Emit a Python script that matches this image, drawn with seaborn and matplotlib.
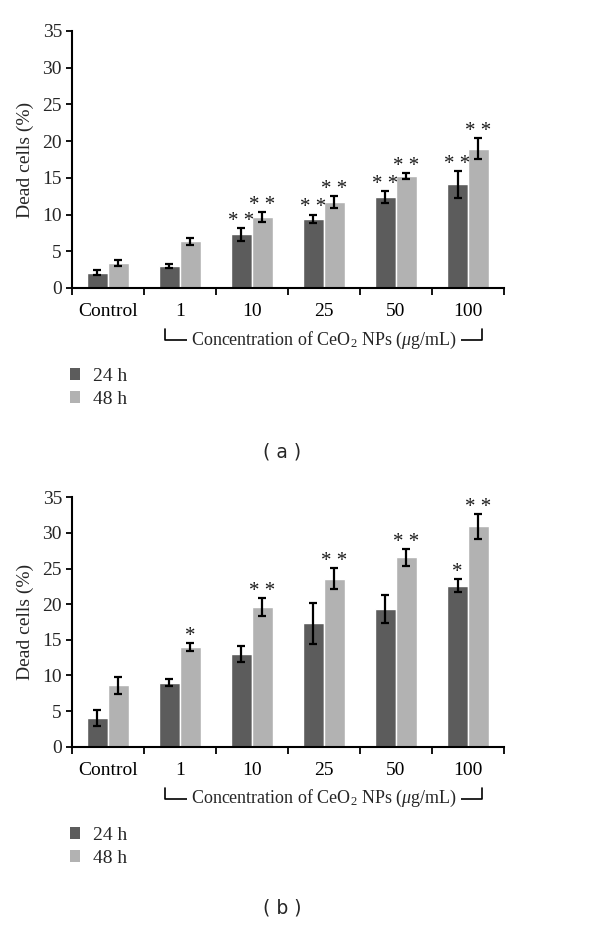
import numpy as np
import pandas as pd
import matplotlib
matplotlib.use("Agg")
import matplotlib.pyplot as plt
import seaborn as sns
from matplotlib.patches import Patch

# ---------------- data ----------------
groups = ["Control", "1", "10", "25", "50", "100"]
times = ["24 h", "48 h"]

a_24 = [2.1, 3.0, 7.3, 9.4, 12.4, 14.1]
a_24_err = [0.3, 0.25, 0.9, 0.6, 0.8, 1.8]
a_48 = [3.35, 6.35, 9.65, 11.7, 15.3, 18.95]
a_48_err = [0.4, 0.5, 0.65, 0.8, 0.4, 1.45]
a_sig_24 = ["", "", "**", "**", "**", "**"]
a_sig_48 = ["", "", "**", "**", "**", "**"]

b_24 = [4.0, 9.0, 13.0, 17.3, 19.3, 22.6]
b_24_err = [1.1, 0.55, 1.15, 2.85, 1.95, 0.9]
b_48 = [8.65, 14.0, 19.6, 23.6, 26.6, 30.95]
b_48_err = [1.2, 0.55, 1.25, 1.45, 1.2, 1.75]
b_sig_24 = ["", "", "", "", "", "*"]
b_sig_48 = ["", "*", "**", "**", "**", "**"]

y_ticks = [0, 5, 10, 15, 20, 25, 30, 35]
y_label = "Dead cells (%)"
x_caption = r"Concentration of CeO$_2$ NPs ($\mathit{\mu}$g/mL)"
panel_labels = ["( a )", "( b )"]

dark = "#5c5c5c"
light = "#b2b2b2"

# ---------------- style ----------------
sns.set_theme(style="white")
plt.rcParams["font.family"] = ["Liberation Serif", "DejaVu Serif"]
plt.rcParams["mathtext.fontset"] = "custom"
plt.rcParams["mathtext.rm"] = "Liberation Serif"
plt.rcParams["mathtext.it"] = "Liberation Serif:italic"

W, H = 600, 925
fig = plt.figure(figsize=(6.0, 9.25), dpi=100)

def px_axes(left, top, right, bottom):
    return fig.add_axes([left / W, 1 - bottom / H, (right - left) / W, (bottom - top) / H])

axA = px_axes(71.7, 31.0, 504.0, 288.0)
axB = px_axes(71.7, 497.3, 504.0, 746.7)

def draw(ax, v24, e24, v48, e48, s24, s48):
    df = pd.DataFrame({
        "group": groups * 2,
        "time": [times[0]] * len(groups) + [times[1]] * len(groups),
        "value": v24 + v48,
    })
    sns.barplot(data=df, x="group", y="value", hue="time", order=groups,
                hue_order=times, palette=[dark, light], width=0.58,
                saturation=1, errorbar=None, ax=ax, legend=False)
    for cont, vals, errs, sigs in zip(ax.containers, [v24, v48], [e24, e48], [s24, s48]):
        xs = [p.get_x() + p.get_width() / 2 for p in cont.patches]
        ax.errorbar(xs, vals, yerr=errs, fmt="none", ecolor="black",
                    elinewidth=1.6, capsize=2.8, capthick=1.6, zorder=5)
        for x, v, e, s in zip(xs, vals, errs, sigs):
            if s:
                ax.annotate(" ".join(s), (x, v + e), xytext=(0, 1.5),
                            textcoords="offset points", ha="center", va="baseline",
                            fontsize=15, color="#1a1a1a")
    ax.set_xlim(-0.5, len(groups) - 0.5)
    ax.set_ylim(0, 35)
    ax.set_yticks(y_ticks)
    ax.set_yticklabels([str(t) for t in y_ticks], fontsize=14)
    ax.set_ylabel(y_label, fontsize=14, labelpad=6)
    ax.set_xlabel("")
    ax.set_xticks(range(len(groups)))
    ax.set_xticklabels(groups, fontsize=14)
    ax.set_xticks(np.arange(-0.5, len(groups), 1.0), minor=True)
    ax.tick_params(axis="x", which="major", length=0, pad=11, colors="black")
    ax.tick_params(axis="x", which="minor", length=5, width=1.3, direction="out", color="black", bottom=True)
    ax.tick_params(axis="y", which="major", length=4, width=1.3, direction="out", color="black", left=True, pad=3)
    for side in ["top", "right"]:
        ax.spines[side].set_visible(False)
    for side in ["left", "bottom"]:
        ax.spines[side].set_color("black")
        ax.spines[side].set_linewidth(1.5)
    ax.grid(False)

    # bracket under concentration groups
    hpx = ax.get_position().height * H
    wpx = ax.get_position().width * W
    def fx(px):
        return (px - 71.7) / wpx
    y_line = -52.0 / hpx
    y_top = -41.0 / hpx
    tr = ax.transAxes
    ax.plot([fx(165), fx(165), fx(482), fx(482)], [y_top, y_line, y_line, y_top],
            transform=tr, clip_on=False, color="black", lw=1.2)
    ax.text(fx(324), y_line, x_caption, transform=tr, ha="center", va="center",
            fontsize=13, bbox=dict(facecolor="white", edgecolor="none", pad=3))

    # legend
    handles = [Patch(facecolor=dark, edgecolor="none", label=times[0]),
               Patch(facecolor=light, edgecolor="none", label=times[1])]
    ax.legend(handles=handles, loc="upper left",
              bbox_to_anchor=(-0.005, -80.0 / hpx), frameon=False,
              fontsize=14, handlelength=0.55, handleheight=0.55,
              handletextpad=0.65, labelspacing=0.3, borderaxespad=0,
              borderpad=0)

draw(axA, a_24, a_24_err, a_48, a_48_err, a_sig_24, a_sig_48)
draw(axB, b_24, b_24_err, b_48, b_48_err, b_sig_24, b_sig_48)

fig.text(282 / W, 1 - 452 / H, panel_labels[0], fontsize=13.5, family="DejaVu Sans",
         ha="center", va="center")
fig.text(282 / W, 1 - 908 / H, panel_labels[1], fontsize=13.5, family="DejaVu Sans",
         ha="center", va="center")

fig.savefig("out.png", dpi=100, facecolor="white")
